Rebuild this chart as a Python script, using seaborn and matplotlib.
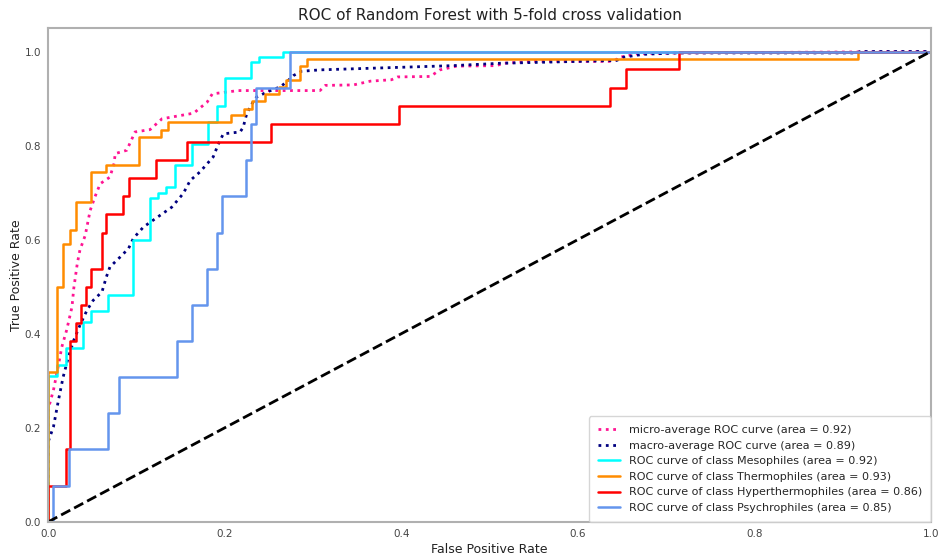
import numpy as np
import pandas as pd
import matplotlib
matplotlib.use("Agg")
import matplotlib.pyplot as plt
import seaborn as sns

# ---- data ----
micro_fpr = [0, 0, 0.002, 0.006, 0.0106, 0.0155, 0.021, 0.027, 0.029, 0.033, 0.036, 0.042,
             0.0476, 0.053, 0.059, 0.070, 0.0747, 0.076, 0.089, 0.0985, 0.1155, 0.129,
             0.150, 0.165, 0.172, 0.180, 0.186, 0.2155, 0.308, 0.314, 0.346, 0.365, 0.389,
             0.396, 0.433, 0.444, 0.463, 0.508, 0.516, 0.549, 0.640, 0.648, 0.667, 0.712, 1.0]
micro_tpr = [0, 0.24, 0.253, 0.28, 0.323, 0.372, 0.408, 0.457, 0.496, 0.549, 0.578, 0.609,
             0.662, 0.691, 0.719, 0.733, 0.762, 0.783, 0.790, 0.829, 0.834, 0.857,
             0.864, 0.869, 0.880, 0.892, 0.910, 0.917, 0.917, 0.928, 0.929, 0.937, 0.940,
             0.946, 0.947, 0.961, 0.969, 0.970, 0.975, 0.979, 0.979, 0.988, 0.995, 0.997, 1.0]

macro_fpr = [0, 0, 0.002, 0.006, 0.0117, 0.017, 0.023, 0.029, 0.036, 0.044, 0.051, 0.061,
             0.066, 0.070, 0.0815, 0.091, 0.0966, 0.108, 0.127, 0.140, 0.153, 0.161, 0.172,
             0.187, 0.193, 0.1985, 0.2175, 0.221, 0.225, 0.231, 0.236, 0.248, 0.263, 0.270,
             0.278, 0.287, 0.308, 0.459, 0.512, 0.644, 0.652, 0.674, 0.712, 0.916, 0.92, 1.0]
macro_tpr = [0, 0.17, 0.181, 0.202, 0.259, 0.308, 0.351, 0.386, 0.418, 0.450, 0.471, 0.489,
             0.521, 0.542, 0.563, 0.581, 0.603, 0.627, 0.652, 0.669, 0.698, 0.726, 0.744,
             0.776, 0.804, 0.825, 0.829, 0.839, 0.868, 0.889, 0.903, 0.914, 0.925, 0.935,
             0.949, 0.958, 0.961, 0.970, 0.975, 0.981, 0.988, 0.994, 0.997, 0.997, 1.0, 1.0]

meso_fpr = [0, 0, 0.0098, 0.020, 0.039, 0.048, 0.068, 0.096, 0.1155, 0.125, 0.134, 0.144,
            0.163, 0.1815, 0.191, 0.200, 0.2295, 0.239, 0.2665, 1.0]
meso_tpr = [0, 0.311, 0.333, 0.369, 0.425, 0.449, 0.483, 0.599, 0.689, 0.700, 0.712, 0.758,
            0.804, 0.851, 0.885, 0.943, 0.977, 0.988, 1.0, 1.0]

thermo_fpr = [0, 0, 0.0098, 0.017, 0.025, 0.032, 0.049, 0.065, 0.103, 0.128, 0.136, 0.207,
              0.222, 0.231, 0.246, 0.262, 0.270, 0.285, 0.293, 0.918, 1.0]
thermo_tpr = [0, 0.319, 0.50, 0.59, 0.62, 0.68, 0.743, 0.758, 0.818, 0.834, 0.850, 0.864,
              0.878, 0.894, 0.909, 0.925, 0.940, 0.970, 0.985, 1.0, 1.0]

hyper_fpr = [0, 0, 0.020, 0.025, 0.031, 0.037, 0.043, 0.049, 0.061, 0.066, 0.085, 0.092,
             0.122, 0.157, 0.253, 0.397, 0.636, 0.655, 0.715, 1.0]
hyper_tpr = [0, 0.077, 0.154, 0.385, 0.423, 0.462, 0.500, 0.538, 0.615, 0.654, 0.692, 0.731,
             0.769, 0.808, 0.846, 0.885, 0.923, 0.962, 1.0, 1.0]

psychro_fpr = [0, 0.006, 0.024, 0.068, 0.080, 0.146, 0.163, 0.180, 0.191, 0.197, 0.224,
               0.2295, 0.235, 0.274, 1.0]
psychro_tpr = [0, 0.077, 0.154, 0.231, 0.308, 0.385, 0.462, 0.538, 0.615, 0.692, 0.769,
               0.846, 0.923, 1.0, 1.0]

labels = ["micro-average ROC curve (area = 0.92)",
          "macro-average ROC curve (area = 0.89)",
          "ROC curve of class Mesophiles (area = 0.92)",
          "ROC curve of class Thermophiles (area = 0.93)",
          "ROC curve of class Hyperthermophiles (area = 0.86)",
          "ROC curve of class Psychrophiles (area = 0.85)"]
ticks = [0.0, 0.2, 0.4, 0.6, 0.8, 1.0]

# ---- plotting ----
sns.set_theme(style="white")
plt.rcParams['font.family'] = ['DejaVu Sans']

fig = plt.figure(figsize=(9.44, 5.6), dpi=100)
ax = fig.add_axes([0.051, 0.068, 0.935, 0.882])

def draw(fpr, tpr, color, ls, lw, label, step):
    df = pd.DataFrame({"fpr": fpr, "tpr": tpr})
    kw = dict(drawstyle="steps-post") if step else {}
    sns.lineplot(data=df, x="fpr", y="tpr", sort=False, estimator=None, color=color,
                 linestyle=ls, linewidth=lw, label=label, ax=ax, **kw)

draw(micro_fpr, micro_tpr, "deeppink", ":", 2.0, labels[0], False)
draw(macro_fpr, macro_tpr, "navy", ":", 2.0, labels[1], False)
draw(meso_fpr, meso_tpr, "aqua", "-", 1.8, labels[2], True)
draw(thermo_fpr, thermo_tpr, "darkorange", "-", 1.8, labels[3], True)
draw(hyper_fpr, hyper_tpr, "red", "-", 1.8, labels[4], True)
draw(psychro_fpr, psychro_tpr, "cornflowerblue", "-", 1.8, labels[5], True)

ax.plot([0, 1], [0, 1], color="black", linestyle="--", linewidth=2)

ax.set_xlim(0.0, 1.0)
ax.set_ylim(0.0, 1.05)
ax.set_xticks(ticks)
ax.set_yticks(ticks)
ax.set_xticklabels([f"{t:.1f}" for t in ticks])
ax.set_yticklabels([f"{t:.1f}" for t in ticks])
ax.tick_params(axis="both", labelsize=7.5, labelcolor="#444444", length=0, pad=5)
for s in ax.spines.values():
    s.set_color("#b0b0b0")
    s.set_linewidth(1.5)

ax.set_xlabel("False Positive Rate", fontsize=9, color="#222222", labelpad=3)
ax.set_ylabel("True Positive Rate", fontsize=9, color="#222222", labelpad=1)
ax.set_title("ROC of Random Forest with 5-fold cross validation", fontsize=11,
             color="#222222", pad=6)

leg = ax.legend(loc="lower right", fontsize=8, frameon=True, fancybox=True,
                edgecolor="#cccccc", borderaxespad=0.0, borderpad=0.8,
                labelspacing=0.5)

fig.savefig("out.png", dpi=100)
